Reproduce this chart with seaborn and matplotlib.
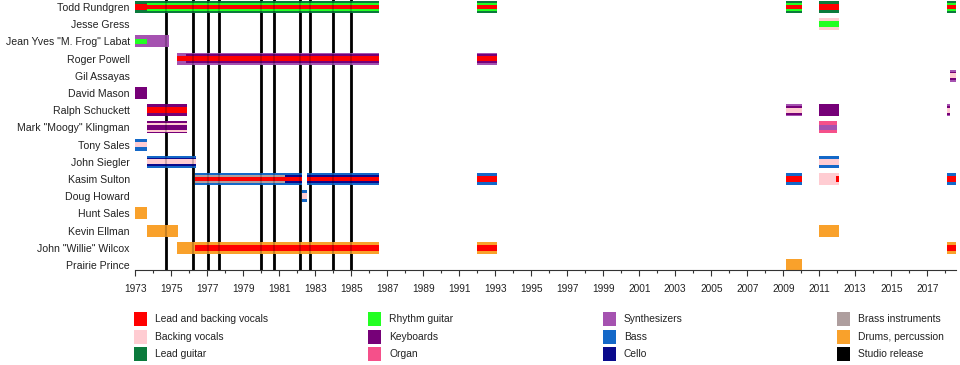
import matplotlib
matplotlib.use("Agg")
import matplotlib.pyplot as plt
from matplotlib.patches import Rectangle
import seaborn as sns

# band members, top to bottom
members = ["Todd Rundgren", "Jesse Gress", 'Jean Yves "M. Frog" Labat', "Roger Powell",
           "Gil Assayas", "David Mason", "Ralph Schuckett", 'Mark "Moogy" Klingman',
           "Tony Sales", "John Siegler", "Kasim Sulton", "Doug Howard", "Hunt Sales",
           "Kevin Ellman", 'John "Willie" Wilcox', "Prairie Prince"]

# membership spans: member, start, end, roles drawn outer -> inner
seg_member = ["Todd Rundgren", "Todd Rundgren", "Todd Rundgren", "Todd Rundgren", "Todd Rundgren", "Todd Rundgren",
              "Jesse Gress",
              'Jean Yves "M. Frog" Labat', 'Jean Yves "M. Frog" Labat',
              "Roger Powell", "Roger Powell", "Roger Powell",
              "Gil Assayas",
              "David Mason",
              "Ralph Schuckett", "Ralph Schuckett", "Ralph Schuckett", "Ralph Schuckett",
              'Mark "Moogy" Klingman', 'Mark "Moogy" Klingman',
              "Tony Sales",
              "John Siegler", "John Siegler",
              "Kasim Sulton", "Kasim Sulton", "Kasim Sulton", "Kasim Sulton", "Kasim Sulton",
              "Kasim Sulton", "Kasim Sulton", "Kasim Sulton",
              "Doug Howard",
              "Hunt Sales",
              "Kevin Ellman", "Kevin Ellman",
              'John "Willie" Wilcox', 'John "Willie" Wilcox', 'John "Willie" Wilcox', 'John "Willie" Wilcox',
              "Prairie Prince"]
seg_start = [1973.0, 1973.65, 1992.0, 2009.15, 2011.0, 2018.08,
             2011.0,
             1973.0, 1973.65,
             1975.3, 1975.82, 1992.0,
             2018.25,
             1973.0,
             1973.65, 2009.15, 2011.0, 2018.08,
             1973.65, 2011.0,
             1973.0,
             1973.65, 2011.0,
             1976.32, 1981.3, 1982.54, 1992.0, 2009.15, 2011.0, 2011.93, 2018.08,
             1982.24,
             1973.0,
             1973.65, 2011.0,
             1975.32, 1976.32, 1992.0, 2018.08,
             2009.15]
seg_end = [1973.65, 1986.54, 1993.08, 2010.04, 2012.1, 2018.6,
           2012.1,
           1973.65, 1974.87,
           1975.82, 1986.54, 1993.08,
           2018.6,
           1973.65,
           1975.87, 2010.04, 2012.1, 2018.25,
           1975.87, 2012.0,
           1973.65,
           1976.37, 2012.1,
           1981.3, 1982.24, 1986.54, 1993.08, 2010.04, 2011.93, 2012.1, 2018.6,
           1982.54,
           1973.65,
           1975.37, 2012.1,
           1976.32, 1986.54, 1993.08, 2018.6,
           2010.04]
seg_roles = [("guitar", "vocals"), ("guitar", "rhythm", "vocals"), ("guitar", "rhythm", "vocals"),
             ("guitar", "rhythm", "vocals"), ("guitar", "vocals"), ("guitar", "rhythm", "vocals"),
             ("backing", "rhythm"),
             ("synth", "rhythm"), ("synth",),
             ("synth", "vocals"), ("synth", "keys", "vocals"), ("synth", "keys", "vocals"),
             ("synth", "keys", "backing"),
             ("keys",),
             ("keys", "vocals"), ("synth", "keys", "backing"), ("keys",), ("synth", "keys", "backing"),
             ("keys", "backing", "keys"), ("organ", "synth"),
             ("bass", "backing"),
             ("bass", "cello", "backing"), ("bass", "backing"),
             ("bass", "brass", "vocals"), ("bass", "cello", "vocals"), ("bass", "cello", "vocals"),
             ("bass", "vocals"), ("bass", "vocals"), ("backing",), ("backing", "vocals"), ("bass", "vocals"),
             ("bass", "backing"),
             ("drums",),
             ("drums",), ("drums",),
             ("drums",), ("drums", "vocals"), ("drums", "vocals"), ("drums", "vocals"),
             ("drums",)]

# studio album release dates
releases = [1974.69, 1976.19, 1977.04, 1977.65, 1979.97, 1980.69, 1982.15, 1982.7, 1983.97, 1984.97]

role_keys = ["vocals", "backing", "guitar", "rhythm", "keys", "organ",
             "synth", "bass", "cello", "brass", "drums", "studio"]
role_labels = ["Lead and backing vocals", "Backing vocals", "Lead guitar", "Rhythm guitar",
               "Keyboards", "Organ", "Synthesizers", "Bass", "Cello", "Brass instruments",
               "Drums, percussion", "Studio release"]
role_colors = ["#FF0000", "#FFCCD2", "#0B7A3C", "#22FF22", "#760078", "#F5508A",
               "#A552B0", "#1468C8", "#0A0A8C", "#AE9E9E", "#F9A12B", "#000000"]
palette = dict(zip(role_keys, role_colors))

sns.set_theme(style="white")
plt.rcParams["font.family"] = ["Liberation Sans", "DejaVu Sans"]
narrow = ["Liberation Sans Narrow", "Liberation Sans", "DejaVu Sans"]

fig = plt.figure(figsize=(9.6, 3.65), dpi=100)
ax = fig.add_axes([135.3 / 960, 95 / 365, (956 - 135.3) / 960, 270 / 365])

row = {m: i for i, m in enumerate(members)}
heights = {1: [0.70], 2: [0.70, 0.32], 3: [0.70, 0.50, 0.28]}

# studio release lines behind the bars
ax.vlines(releases, -0.5, len(members), color="black", linewidth=2, zorder=1)

for m, s, e, roles in zip(seg_member, seg_start, seg_end, seg_roles):
    for h, r in zip(heights[len(roles)], roles):
        ax.barh(row[m], e - s, left=s, height=h, color=palette[r],
                linewidth=0, zorder=2)

# faint release lines showing through
ax.vlines(releases, -0.5, len(members), color="black", linewidth=1.5, alpha=0.2, zorder=3)

ax.set_xlim(1973, 2018.6)
ax.set_ylim(15.29, -0.41)
ax.set_yticks(range(len(members)))
ax.set_yticklabels(members, fontsize=7.6, color="#222222")
ax.tick_params(axis="y", length=0, pad=4)

ax.set_xticks(range(1973, 2018, 2))
ax.set_xticks(range(1973, 2019), minor=True)
ax.set_xticklabels([str(y) for y in range(1973, 2018, 2)], fontsize=7.3,
                   family=narrow, color="#222222")
ax.tick_params(axis="x", which="major", length=4, width=0.8, color="#333333",
               direction="out", bottom=True, pad=6)
ax.tick_params(axis="x", which="minor", length=2.5, width=0.8, color="#333333",
               direction="out", bottom=True)

sns.despine(ax=ax, left=True, top=True, right=True)
ax.spines["bottom"].set_color("#333333")
ax.spines["bottom"].set_linewidth(0.8)
ax.grid(False)

# legend in four columns of three
col_x = [134, 368, 603, 837]
row_y = [319, 337, 354]
for i, (lab, colr) in enumerate(zip(role_labels, role_colors)):
    cx = col_x[i // 3]
    cy = row_y[i % 3]
    fig.add_artist(Rectangle((cx / 960, 1 - (cy + 7) / 365), 13 / 960, 14 / 365,
                             transform=fig.transFigure, facecolor=colr, edgecolor="none"))
    fig.text((cx + 21) / 960, 1 - cy / 365, lab, fontsize=7.4, family=narrow,
             color="#222222", va="center", ha="left")

fig.savefig("out.png", dpi=100)
